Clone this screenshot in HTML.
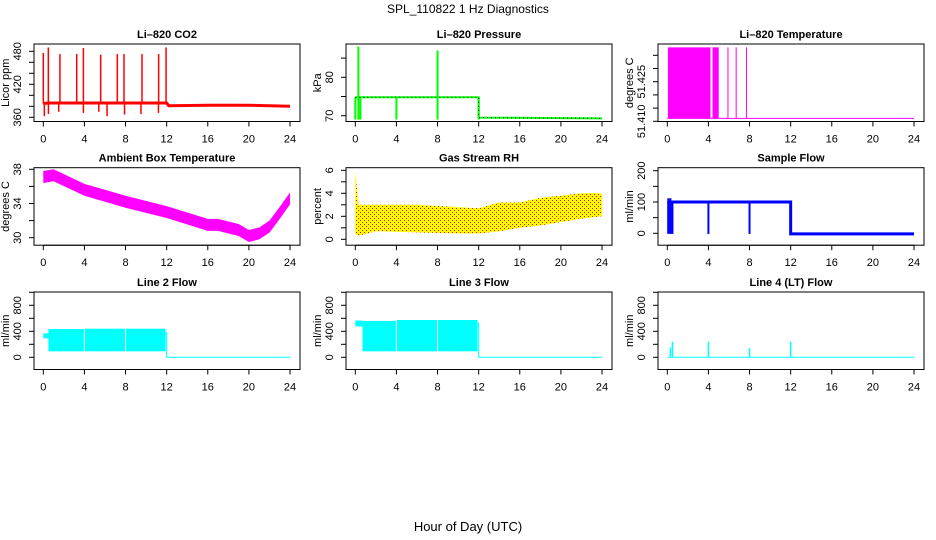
<!DOCTYPE html>
<html><head><meta charset="utf-8"><style>
html,body{margin:0;padding:0;background:#fff;}
svg{display:block;font-family:"Liberation Sans",sans-serif;}
</style></head><body>
<svg id="chart" width="936" height="540" viewBox="0 0 936 540" xmlns="http://www.w3.org/2000/svg">
<defs>
<pattern id="rhpat" width="4" height="4" patternUnits="userSpaceOnUse">
<rect width="4" height="4" fill="#ffff00"/><rect x="0" y="0" width="1" height="1" fill="#ff0000"/><rect x="2" y="2" width="1" height="1" fill="#ff0000"/>
</pattern>
</defs>
<text x="468" y="13" font-size="12" text-anchor="middle">SPL_110822  1 Hz Diagnostics</text>
<text x="468" y="531" font-size="13" text-anchor="middle">Hour of Day (UTC)</text>
</svg>
<script>
// ---- data ----
const xTicks = [0,4,8,12,16,20,24];
// CO2
const co2BaseT = [0,0.5,12,12.2,16,20,24];
const co2BaseV = [385,386,386,381,382,382,380];
const co2SpikeT = [0.0,0.49,1.62,3.25,3.9,5.58,7.2,7.85,9.6,11.22,11.94];
const co2SpikeV = [477,487,475,475,486,474,475,475,475,475,487];
const co2DipT = [0.1,0.5,1.5,3.9,5.4,6.2,7.9,9.5,11.2];
const co2DipV = [362,366,370,368,370,362,365,366,368];
// Pressure
const presT = [0,0.3,0.3,12,12,24];
const presV = [74.8,74.8,74.8,74.8,69.5,69.3];
const presSpikeT = [0.3,8.0];
const presSpikeV = [88,87];
const presDipT = [0,0.3,0.5,4,8,12];
const presDipV = [69,69,69,69,69,69];
// Li-820 temperature
const litLowT = [0,24];
const litLowV = [51.4111,51.4111];
const litBlockStart = [0.06,4.4];
const litBlockEnd = [4.2,5.0];
const litBlockV = [51.438,51.438];
const litSpikeT = [5.9,6.7,7.7];
const litSpikeV = [51.438,51.438,51.438];
// Ambient box temp
const ambT = [0,1,4,8,12,16,17,19,20,21,22,23,24];
const ambV = [37.1,37.3,35.6,34.2,33.0,31.5,31.5,30.9,30.2,30.5,31.3,32.9,34.6];
const ambHalfWidth = 0.7;
// Gas stream RH
const rhT = [0,0.3,2,6,10,12,14,16,18,20,22,24];
const rhLo = [0.5,0.3,0.7,0.6,0.5,0.5,0.7,1.0,1.2,1.5,1.8,2.0];
const rhHi = [6,3.0,3.0,3.0,2.8,2.7,3.2,3.2,3.6,3.8,4.0,4.0];
// Sample flow
const sfT = [0,0.5,0.5,12,12,24];
const sfV = [100,100,100,100,-2,-2];
const sfDipT = [0.1,0.3,0.5,4,8,12];
const sfDipV = [-2,-2,-2,-2,-2,-2];
const sfSpikeT = [0.1,0.3];
const sfSpikeV = [112,112];
// Line 2 flow
const l2BandStart = [0.5,4.05,8.05];
const l2BandEnd = [3.95,7.95,11.9];
const l2Lo = [92,92,92];
const l2Hi = [435,440,440];
const l2PreT = [0,0.5];
const l2PreV = [330,330];
const l2TailT = [11.9,12,12,24];
const l2TailV = [380,380,0,0];
// Line 3 flow
const l3BandStart = [0.7,4.05,8.05];
const l3BandEnd = [3.95,7.95,11.9];
const l3Lo = [92,92,92];
const l3Hi = [560,574,574];
const l3PreT = [0,0.7];
const l3PreV = [520,520];
const l3TailT = [11.9,12,12,24];
const l3TailV = [520,520,0,0];
// Line 4 flow
const l4T = [0,24];
const l4V = [0,0];
const l4SpikeT = [0.3,0.5,4.0,8.0,12.0];
const l4SpikeV = [150,240,240,140,240];

// ---- layout ----
const svg = document.getElementById('chart');
const NS = 'http://www.w3.org/2000/svg';
const colLeft = [34,346,658], rowTop = [44,167.7,292], BW = 266, BH = 77.5;
function mk(tag, attrs, parent){
  const e = document.createElementNS(NS, tag);
  for (const k in attrs) e.setAttribute(k, attrs[k]);
  (parent||svg).appendChild(e);
  return e;
}
function panel(cfg){
  const L = colLeft[cfg.col], T = rowTop[cfg.row];
  const g = mk('g', {});
  
  
  const xs = t => L + 9.3 + t * 10.28;
  const [v0,y0,v1,y1] = cfg.cal;
  const ys = v => y0 + (v - v0) * (y1 - y0) / (v1 - v0);
  const plot = mk('g', {}, g);
  
  
  cfg.draw(plot, xs, ys);
  const box = mk('rect', {x:L, y:T, width:BW, height:BH, fill:'none', stroke:'#000', 'stroke-width':1}, g);
  
  
  const tt = mk('text', {x:L+BW/2, y:T-6, 'font-size':11, 'font-weight':'bold', 'text-anchor':'middle'}, g);
  tt.textContent = cfg.title;
  
  
  const xb = T + BH;
  mk('line', {x1:xs(xTicks[0]), x2:xs(xTicks[xTicks.length-1]), y1:xb, y2:xb, stroke:'#000'}, g);
  xTicks.forEach(t => {
    mk('line', {x1:xs(t), x2:xs(t), y1:xb, y2:xb+5, stroke:'#000'}, g);
    const lb = mk('text', {x:xs(t), y:xb+21, 'font-size':11, 'text-anchor':'middle'}, g);
    lb.textContent = t;
    
    
  });
  const yt = cfg.yTicks;
  mk('line', {x1:L, x2:L, y1:ys(yt[0]), y2:ys(yt[yt.length-1]), stroke:'#000'}, g);
  yt.forEach(v => mk('line', {x1:L-5, x2:L, y1:ys(v), y2:ys(v), stroke:'#000'}, g));
  cfg.yLabels.forEach(v => {
    const x = L - 13, y = ys(v);
    const lb = mk('text', {x:x, y:y, 'font-size':11, 'text-anchor':'middle', transform:`rotate(-90 ${x} ${y})`}, g);
    lb.textContent = cfg.fmt ? cfg.fmt(v) : v;
    
    
  });
  const yx = L - 25, yy = T + BH/2;
  const yl = mk('text', {x:yx, y:yy, 'font-size':11, 'text-anchor':'middle', transform:`rotate(-90 ${yx} ${yy})`}, g);
  yl.textContent = cfg.ylab;
  
  
}
function poly(p, xs, ys, T, V, color, w, name){
  const e = mk('polyline', {points:T.map((t,i)=>xs(t)+','+ys(V[i])).join(' '), fill:'none', stroke:color, 'stroke-width':w||1.5}, p);
  
  
  return e;
}
function spikes(p, xs, ys, T, V, base, color, w, name){
  T.forEach((t,i)=>{
    const e = mk('line', {x1:xs(t), x2:xs(t), y1:ys(base), y2:ys(V[i]), stroke:color, 'stroke-width':w||1.5}, p);
    
    
  });
}
function band(p, xs, ys, T, lo, hi, fill, name){
  const pts = T.map((t,i)=>xs(t)+','+ys(hi[i])).concat(T.slice().reverse().map((t,j)=>{const i=T.length-1-j;return xs(t)+','+ys(lo[i]);}));
  const e = mk('polygon', {points:pts.join(' '), fill:fill, stroke:'none'}, p);
  
  
}
function blocks(p, xs, ys, S, E, lo, hi, fill, name){
  S.forEach((s,i)=>{
    const e = mk('rect', {x:xs(s), y:ys(hi[i]), width:xs(E[i])-xs(s), height:ys(lo[i])-ys(hi[i]), fill:fill}, p);
    
    
  });
}
const range = (a,b,s)=>{const r=[];for(let v=a;v<=b+1e-9;v+=s)r.push(+v.toFixed(4));return r;};

panel({name:'co2-panel', col:0, row:0, title:'Li\u2013820 CO2', ylab:'Licor ppm', cal:[360,117.3,480,51.3],
  yTicks:range(360,480,20), yLabels:[360,420,480],
  draw:(p,xs,ys)=>{
    spikes(p,xs,ys,co2SpikeT,co2SpikeV,385,'#ff0000',1.5,'co2-spike');
    spikes(p,xs,ys,co2DipT,co2DipV,385,'#ff0000',1.5,'co2-dip');
    poly(p,xs,ys,co2BaseT,co2BaseV,'#ff0000',3,'co2-line');
  }});
panel({name:'pressure-panel', col:1, row:0, title:'Li\u2013820 Pressure', ylab:'kPa', cal:[70,115.7,80,77.3],
  yTicks:[70,75,80,85], yLabels:[70,80],
  draw:(p,xs,ys)=>{
    spikes(p,xs,ys,presSpikeT,presSpikeV,74.8,'#00ff00',2,'pressure-spike');
    spikes(p,xs,ys,presDipT,presDipV,74.8,'#00ff00',2,'pressure-dip');
    poly(p,xs,ys,presT,presV,'#00ff00',2,'pressure-line');
    const d = poly(p,xs,ys,presT,presV,'#000',1,'pressure-points');
    d.setAttribute('stroke-dasharray','1 3');
  }});
panel({name:'li820-temp-panel', col:2, row:0, title:'Li\u2013820 Temperature', ylab:'degrees C', cal:[51.410,121.3,51.435,55.3],
  yTicks:range(51.410,51.435,0.005), yLabels:[51.410,51.425], fmt:v=>v.toFixed(3),
  draw:(p,xs,ys)=>{
    blocks(p,xs,ys,litBlockStart,litBlockEnd,[51.4111,51.4111],litBlockV,'#ff00ff','temp-block');
    spikes(p,xs,ys,litSpikeT,litSpikeV,51.4111,'#ff00ff',1,'temp-spike');
    poly(p,xs,ys,litLowT,litLowV,'#ff00ff',1,'temp-line');
  }});
panel({name:'ambient-temp-panel', col:0, row:1, title:'Ambient Box Temperature', ylab:'degrees C', cal:[30,237.7,38,169.3],
  yTicks:[30,32,34,36,38], yLabels:[30,34,38],
  draw:(p,xs,ys)=>{
    band(p,xs,ys,ambT,ambV.map(v=>v-ambHalfWidth),ambV.map(v=>v+ambHalfWidth),'#ff00ff','ambient-band');
  }});
panel({name:'rh-panel', col:1, row:1, title:'Gas Stream RH', ylab:'percent', cal:[0,239.3,6,170.3],
  yTicks:[0,1,2,3,4,5,6], yLabels:[0,2,4,6],
  draw:(p,xs,ys)=>{ band(p,xs,ys,rhT,rhLo,rhHi,'url(#rhpat)','rh-band'); }});
panel({name:'sample-flow-panel', col:2, row:1, title:'Sample Flow', ylab:'ml/min', cal:[0,233.3,200,170.7],
  yTicks:[0,50,100,150,200], yLabels:[0,100,200],
  draw:(p,xs,ys)=>{
    spikes(p,xs,ys,sfDipT,sfDipV,100,'#0000ff',2,'flow-dip');
    spikes(p,xs,ys,sfSpikeT,sfSpikeV,0,'#0000ff',2,'flow-spike');
    poly(p,xs,ys,sfT,sfV,'#0000ff',3,'sample-flow-line');
  }});
panel({name:'line2-flow-panel', col:0, row:2, title:'Line 2 Flow', ylab:'ml/min', cal:[0,357.3,800,305.3],
  yTicks:range(0,1000,200), yLabels:[0,400,800],
  draw:(p,xs,ys)=>{
    poly(p,xs,ys,l2PreT,l2PreV,'#00ffff',5,'line2-pre');
    blocks(p,xs,ys,l2BandStart,l2BandEnd,l2Lo,l2Hi,'#00ffff','line2-block');
    poly(p,xs,ys,l2TailT,l2TailV,'#00ffff',1,'line2-tail');
  }});
panel({name:'line3-flow-panel', col:1, row:2, title:'Line 3 Flow', ylab:'ml/min', cal:[0,357.3,800,305.3],
  yTicks:range(0,1000,200), yLabels:[0,400,800],
  draw:(p,xs,ys)=>{
    poly(p,xs,ys,l3PreT,l3PreV,'#00ffff',6,'line3-pre');
    blocks(p,xs,ys,l3BandStart,l3BandEnd,l3Lo,l3Hi,'#00ffff','line3-block');
    poly(p,xs,ys,l3TailT,l3TailV,'#00ffff',1,'line3-tail');
  }});
panel({name:'line4-flow-panel', col:2, row:2, title:'Line 4 (LT) Flow', ylab:'ml/min', cal:[0,357.3,800,305.3],
  yTicks:range(0,1000,200), yLabels:[0,400,800],
  draw:(p,xs,ys)=>{
    spikes(p,xs,ys,l4SpikeT,l4SpikeV,0,'#00ffff',1.5,'line4-spike');
    poly(p,xs,ys,l4T,l4V,'#00ffff',1,'line4-line');
  }});
</script>
</body></html>
